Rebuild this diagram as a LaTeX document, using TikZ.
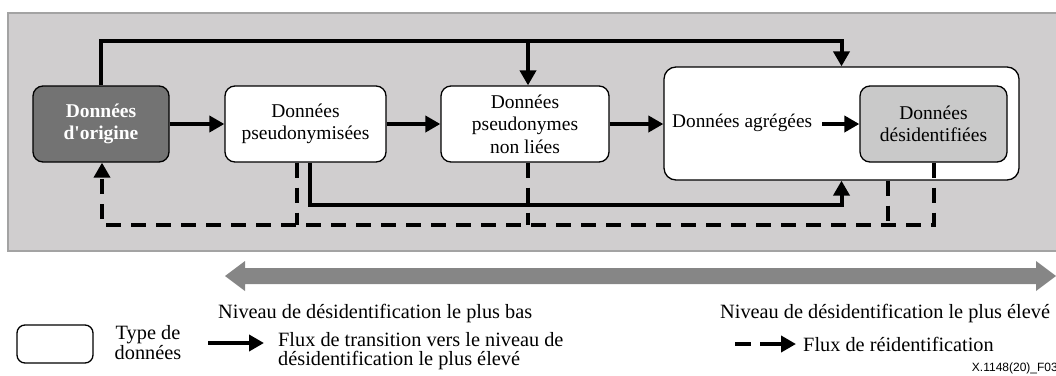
\documentclass[tikz,border=0pt]{standalone}
\usepackage{fontspec}
\setmainfont{Liberation Serif}
\newfontfamily\labelsans{Liberation Sans}
\usetikzlibrary{arrows.meta,calc}

\definecolor{panelgray}{HTML}{D0CECF}
\definecolor{panelline}{HTML}{A3A3A3}
\definecolor{origfill}{HTML}{737373}
\definecolor{deidfill}{HTML}{C9C9C9}
\definecolor{levelarrow}{HTML}{868686}

\tikzset{
  databox/.style={draw=black, line width=1.3pt, rounded corners=10pt, fill=white,
    align=center, inner sep=0pt, font=\fontsize{19.5}{22}\selectfont},
  tip/.style={-{Triangle[length=15pt,width=16pt]}},
  flow/.style={line width=4pt, tip},
  reflow/.style={line width=4pt, dash pattern=on 15pt off 10pt},
  txt/.style={inner sep=0pt, font=\fontsize{20.3}{21}\selectfont},
}

\begin{document}
\begin{tikzpicture}[x=1pt,y=-1pt]
\useasboundingbox (0,0) rectangle (1056,375);
\clip (0,0) rectangle (1056,375);

% background panel
\fill[panelgray] (8,13) rectangle (1070,251);
\draw[panelline, line width=1.5pt] (1070,13) -- (8,13) -- (8,251) -- (1070,251);

% data types
\node[databox, fill=origfill, text=white, font=\fontsize{19.5}{22}\selectfont\bfseries,
      minimum width=136pt, minimum height=76pt] (A) at (101,124) {Données\\d\textquotesingle origine};
\node[databox, minimum width=161pt, minimum height=76pt] (B) at (305.5,124) {Données\\pseudonymisées};
\node[databox, minimum width=168pt, minimum height=76pt, font=\fontsize{19.5}{22.5}\selectfont]
      (C) at (525,124) {Données\\pseudonymes\\non liées};
\node[databox, rounded corners=12pt, minimum width=355pt, minimum height=113pt] (D) at (841.5,123.5) {};
\node[databox, fill=deidfill, minimum width=147pt, minimum height=76pt] (E) at (933.5,124) {Données\\désidentifiées};
\node[inner sep=0pt, anchor=west, font=\fontsize{19.3}{21}\selectfont] (agg) at (672,123) {Données agrégées};

% transitions towards higher de-identification
\draw[flow] (A.east) -- (B.west);
\draw[flow] (B.east) -- (C.west);
\draw[flow] (C.east) -- (D.west |- C.east);
\draw[flow] (822,124) -- (E.west);
\coordinate (top) at (0,41);
\draw[flow] (A.north) -- (A.north |- top) -- (D.north |- top) -- (D.north);
\draw[flow] ($(C.north |- top)+(3,0)$) -- ($(C.north)+(3,0)$);
\coordinate (low) at (0,205);
\draw[flow] ($(B.south)+(4.5,0)$) -- ($(B.south |- low)+(4.5,0)$) -- (D.south |- low) -- (D.south);

% re-identification flows
\coordinate (back) at (0,225);
\draw[reflow, tip]
  (E.south) -- (E.south |- back) -- ($(A.south |- back)+(1,0)$) -- ($(A.south)+(1,0)$);
\draw[reflow] ($(D.south)+(46,0)$) -- ($(D.south |- back)+(46,0)$);
\draw[reflow] ($(C.south)+(3,0)$) -- ($(C.south |- back)+(3,0)$);
\draw[reflow] ($(B.south)+(-8.5,0)$) -- ($(B.south |- back)+(-8.5,0)$);

% level of de-identification
\fill[levelarrow] (225,276) -- (245,261) -- (245,268) -- (1036,268) -- (1036,261)
  -- (1056,276) -- (1036,291) -- (1036,284) -- (245,284) -- (245,291) -- cycle;
\node[txt, anchor=west] (lowlvl) at (218,314) {Niveau de désidentification le plus bas};
\node[txt, anchor=west] (highlvl) at (720,314) {Niveau de désidentification le plus élevé};

% legend
\node[databox, rounded corners=8pt, minimum width=76pt, minimum height=38pt] (key) at (55,344) {};
\node[txt, align=center, font=\fontsize{20.3}{20}\selectfont] (keytxt) at (148,343) {Type de\\données};
\coordinate (s1) at (208,343);
\coordinate (s2) at (264,343);
\draw[flow] (s1) -- (s2);
\node[txt, anchor=north west, align=left, font=\fontsize{20.3}{19.5}\selectfont]
  (flowtxt) at (278,332) {Flux de transition vers le niveau de\\désidentification le plus élevé};
\coordinate (r1) at (735,344);
\coordinate (r2) at (796,344);
\draw[line width=4pt, dash pattern=on 16pt off 9pt on 40pt off 1pt, tip] (r1) -- (r2);
\node[txt, anchor=west] (retxt) at (803,344) {Flux de réidentification};
\node[inner sep=0pt, anchor=east, font=\labelsans\fontsize{12}{12}\selectfont] (ref) at (1058,368) {X.1148(20)\_F03};
\end{tikzpicture}
\end{document}
